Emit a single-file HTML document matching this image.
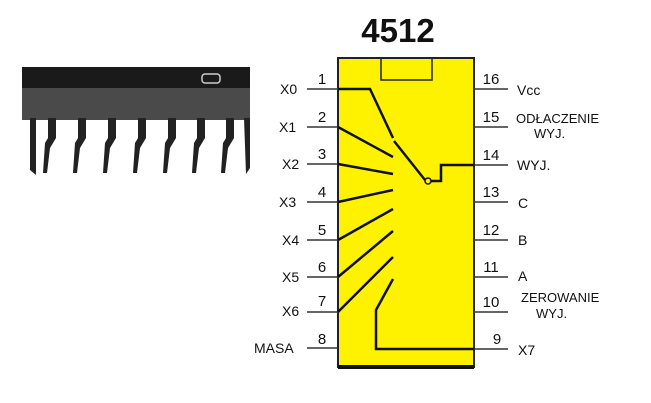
<!DOCTYPE html>
<html><head><meta charset="utf-8"><style>
html,body{margin:0;padding:0;background:#fff;}
svg{display:block}
text{font-family:"Liberation Sans",sans-serif;fill:#111}
</style></head><body>
<svg width="651" height="403" viewBox="0 0 651 403" xmlns="http://www.w3.org/2000/svg">
<rect width="651" height="403" fill="#fff"/>
<!-- photo of chip -->
<rect x="22" y="67" width="228" height="24" fill="#1a1a1a"/>
<rect x="22" y="88" width="228" height="32" fill="#4a4a4a"/>
<rect x="202" y="74" width="18" height="9" rx="3" fill="none" stroke="#ccc" stroke-width="1.5"/>
<g fill="#222">
<path d="M30 118 L30 170 L36 175 L36 118 Z"/>
<path d="M48 118 l8 0 l0 20 l-6 10 l-3 25 l-4 0 l2 -30 l3 -5 Z"/>
<path d="M78 118 l8 0 l0 20 l-6 10 l-3 25 l-4 0 l2 -30 l3 -5 Z"/>
<path d="M108 118 l8 0 l0 20 l-6 10 l-3 25 l-4 0 l2 -30 l3 -5 Z"/>
<path d="M138 118 l8 0 l0 20 l-6 10 l-3 25 l-4 0 l2 -30 l3 -5 Z"/>
<path d="M168 118 l8 0 l0 20 l-6 10 l-3 25 l-4 0 l2 -30 l3 -5 Z"/>
<path d="M197 118 l8 0 l0 20 l-6 10 l-3 25 l-4 0 l2 -30 l3 -5 Z"/>
<path d="M226 118 l8 0 l0 20 l-6 10 l-3 25 l-4 0 l2 -30 l3 -5 Z"/>
<path d="M244 118 l6 0 l0 50 l-4 6 Z"/>
</g>
<!-- title -->
<text x="398" y="42" font-size="33" font-weight="bold" text-anchor="middle">4512</text>
<!-- chip body -->
<rect x="338" y="58" width="136" height="309" fill="#fff200" stroke="#222" stroke-width="2"/>
<line x1="338" y1="367" x2="474" y2="367" stroke="#111" stroke-width="4"/>
<rect x="381" y="58" width="51" height="22" fill="none" stroke="#222" stroke-width="1.5"/>
<!-- pins -->
<g stroke="#333" stroke-width="1.5">
<line x1="307" y1="89" x2="338" y2="89"/><line x1="307" y1="127" x2="338" y2="127"/>
<line x1="307" y1="164" x2="338" y2="164"/><line x1="307" y1="202" x2="338" y2="202"/>
<line x1="307" y1="240" x2="338" y2="240"/><line x1="307" y1="277" x2="338" y2="277"/>
<line x1="307" y1="312" x2="338" y2="312"/><line x1="307" y1="348" x2="338" y2="348"/>
<line x1="474" y1="89" x2="508" y2="89"/><line x1="474" y1="127" x2="508" y2="127"/>
<line x1="474" y1="165" x2="508" y2="165"/><line x1="474" y1="202" x2="508" y2="202"/>
<line x1="474" y1="240" x2="508" y2="240"/><line x1="474" y1="277" x2="508" y2="277"/>
<line x1="474" y1="312" x2="508" y2="312"/><line x1="474" y1="349" x2="508" y2="349"/>
</g>
<!-- switch -->
<g stroke="#111" stroke-width="2.5" fill="none">
<polyline points="338,89 370,89 393,138"/>
<line x1="394" y1="141" x2="425" y2="180"/>
<polyline points="431,181 441,181 441,165 474,165"/>
<line x1="338" y1="127" x2="393" y2="157"/>
<line x1="338" y1="164" x2="393" y2="174"/>
<line x1="338" y1="202" x2="393" y2="190"/>
<line x1="338" y1="240" x2="393" y2="209"/>
<line x1="338" y1="277" x2="393" y2="231"/>
<line x1="338" y1="312" x2="393" y2="257"/>
<polyline points="393,279 376,310 376,349 474,349"/>
</g>
<circle cx="428" cy="181" r="3" fill="none" stroke="#111" stroke-width="1.5"/>
<!-- numbers -->
<g font-size="15" text-anchor="middle">
<text x="322" y="84">1</text><text x="322" y="122">2</text><text x="322" y="159">3</text>
<text x="322" y="197">4</text><text x="322" y="235">5</text><text x="322" y="272">6</text>
<text x="322" y="306">7</text><text x="322" y="344">8</text>
<text x="491" y="84">16</text><text x="491" y="122">15</text><text x="491" y="160">14</text>
<text x="491" y="197">13</text><text x="491" y="235">12</text><text x="491" y="272">11</text>
<text x="491" y="307">10</text><text x="497" y="344">9</text>
</g>
<g font-size="14">
<text x="280" y="94">X0</text><text x="279" y="132">X1</text><text x="282" y="169">X2</text>
<text x="279" y="207">X3</text><text x="282" y="245">X4</text><text x="282" y="282">X5</text>
<text x="282" y="316">X6</text><text x="254" y="353">MASA</text>
<text x="517" y="95">Vcc</text>
<text x="516" y="123" font-size="13">ODŁACZENIE</text><text x="534" y="138" font-size="13">WYJ.</text>
<text x="517" y="170">WYJ.</text>
<text x="518" y="208">C</text><text x="518" y="245">B</text><text x="518" y="281">A</text>
<text x="521" y="302" font-size="13">ZEROWANIE</text><text x="536" y="318" font-size="13">WYJ.</text>
<text x="518" y="355">X7</text>
</g>
</svg>
</body></html>
